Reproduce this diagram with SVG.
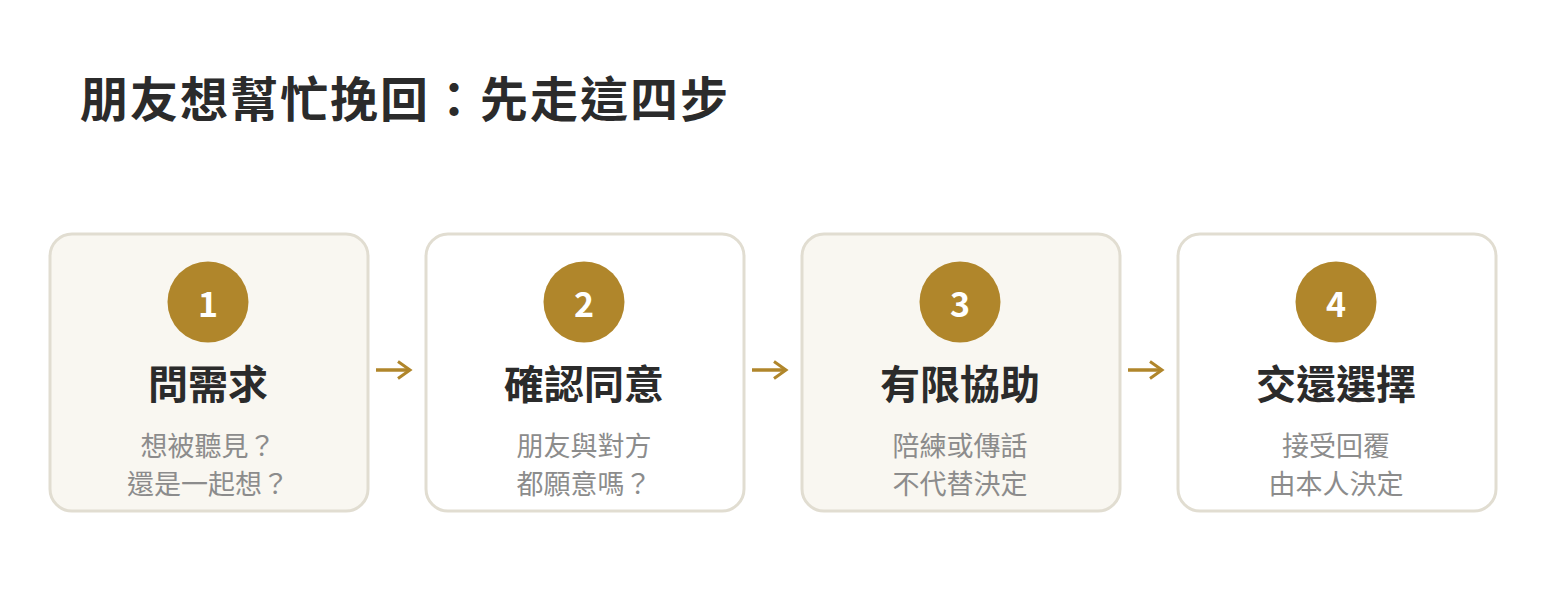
<svg xmlns="http://www.w3.org/2000/svg" width="1546" height="600" viewBox="0 0 1546 600">
<style>
.bg{fill:#ffffff}
.card{stroke:#e1ddd1;stroke-width:3}
.cream{fill:#f9f7f1}
.white{fill:#ffffff}
.badge{fill:#b0862b}
.num{font-family:"Noto Sans CJK TC","Noto Sans",sans-serif;font-weight:700;font-size:34px;fill:#ffffff;text-anchor:middle}
.head{font-family:"Noto Sans CJK TC","Noto Sans CJK SC",sans-serif;font-weight:700;font-size:40px;fill:#2b2b2b;text-anchor:middle}
.sub{font-family:"Noto Sans CJK TC","Noto Sans CJK SC",sans-serif;font-weight:400;font-size:27px;fill:#8c8c8c;text-anchor:middle}
.title{font-family:"Noto Sans CJK TC","Noto Sans CJK SC",sans-serif;font-weight:700;font-size:48px;fill:#2b2b2b;letter-spacing:2px}
.conn{stroke:#b0862b;stroke-width:3.5;fill:none;stroke-linecap:butt}
.head-arrow{stroke:#b0862b;stroke-width:3;fill:none}
</style>
<rect class="bg" x="0" y="0" width="1546" height="600"/>
<text class="title" x="80" y="117">朋友想幫忙挽回：先走這四步</text>
<g id="connectors">
  <g id="c1"><line class="conn" x1="376" y1="370" x2="410" y2="370"/><polyline class="head-arrow" points="398,361.5 410,370 398,378.5"/></g>
  <g id="c2"><line class="conn" x1="752" y1="370" x2="786" y2="370"/><polyline class="head-arrow" points="774,361.5 786,370 774,378.5"/></g>
  <g id="c3"><line class="conn" x1="1128" y1="370" x2="1162" y2="370"/><polyline class="head-arrow" points="1150,361.5 1162,370 1150,378.5"/></g>
</g>
<g id="step1">
  <rect class="card cream" x="50" y="234" width="318" height="277" rx="22"/>
  <circle class="badge" cx="208" cy="302" r="40.5"/>
  <text class="num" x="208" y="317">1</text>
  <text class="head" x="208" y="399">問需求</text>
  <text class="sub" x="208" y="456">想被聽見？</text>
  <text class="sub" x="208" y="494">還是一起想？</text>
</g>
<g id="step2">
  <rect class="card white" x="426" y="234" width="318" height="277" rx="22"/>
  <circle class="badge" cx="584" cy="302" r="40.5"/>
  <text class="num" x="584" y="317">2</text>
  <text class="head" x="584" y="399">確認同意</text>
  <text class="sub" x="584" y="456">朋友與對方</text>
  <text class="sub" x="584" y="494">都願意嗎？</text>
</g>
<g id="step3">
  <rect class="card cream" x="802" y="234" width="318" height="277" rx="22"/>
  <circle class="badge" cx="960" cy="302" r="40.5"/>
  <text class="num" x="960" y="317">3</text>
  <text class="head" x="960" y="399">有限協助</text>
  <text class="sub" x="960" y="456">陪練或傳話</text>
  <text class="sub" x="960" y="494">不代替決定</text>
</g>
<g id="step4">
  <rect class="card white" x="1178" y="234" width="318" height="277" rx="22"/>
  <circle class="badge" cx="1336" cy="302" r="40.5"/>
  <text class="num" x="1336" y="317">4</text>
  <text class="head" x="1336" y="399">交還選擇</text>
  <text class="sub" x="1336" y="456">接受回覆</text>
  <text class="sub" x="1336" y="494">由本人決定</text>
</g>
</svg>
